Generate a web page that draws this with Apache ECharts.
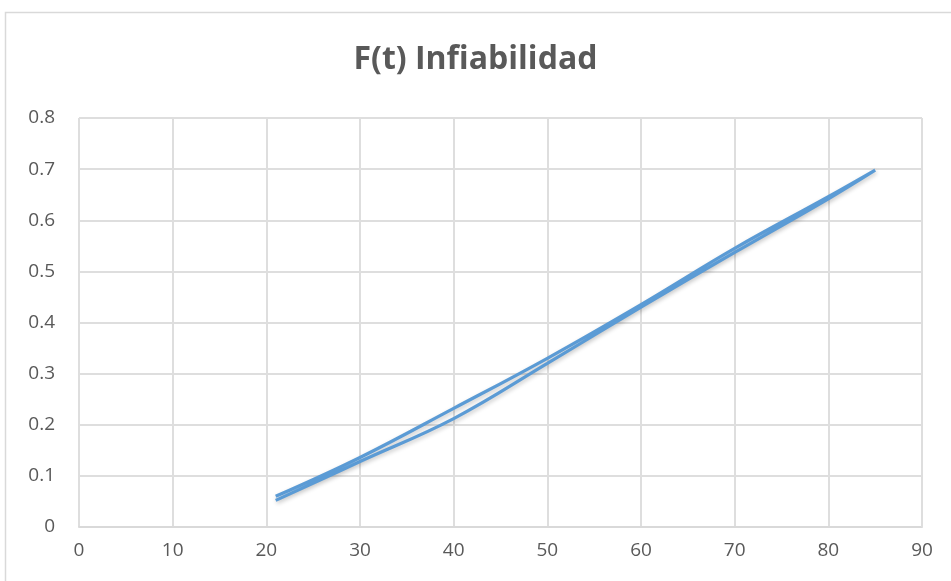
<!DOCTYPE html>
<html>
<head>
<meta charset="utf-8">
<script src="https://cdn.jsdelivr.net/npm/echarts@6/dist/echarts.min.js"></script>
<style>
html,body{margin:0;padding:0;background:#fff;}
#chart{width:951px;height:581px;}
</style>
</head>
<body>
<div id="chart"></div>
<script>
var titleText = 'F(t) Infiabilidad';
// outgoing path (lower curve) then return path (upper curve)
var tValues = [21, 30, 40, 50, 60, 70, 80, 85, 80, 70, 60, 50, 40, 30, 21];
var fValues = [0.052, 0.128, 0.212, 0.32, 0.43, 0.537, 0.642, 0.698, 0.646, 0.545, 0.435, 0.33, 0.232, 0.136, 0.06];
var xTicks = [0, 90, 10];
var yTicks = [0, 0.8, 0.1];

var data = tValues.map(function (t, i) { return [t, fValues[i]]; });

var chart = echarts.init(document.getElementById('chart'));
chart.setOption({
  animation: false,
  backgroundColor: '#fff',
  title: {
    text: titleText,
    left: 'center',
    top: 39,
    textStyle: { fontFamily: 'Open Sans', fontWeight: 'bold', fontSize: 32, color: '#595959' }
  },
  graphic: [{
    type: 'rect',
    shape: { x: 5.5, y: 12.5, width: 1000, height: 700 },
    style: { fill: 'none', stroke: '#d9d9d9', lineWidth: 1.5 },
    silent: true
  }],
  grid: { left: 79, right: 29, top: 118, bottom: 54, containLabel: false },
  xAxis: {
    type: 'value',
    min: xTicks[0], max: xTicks[1], interval: xTicks[2],
    axisLine: { show: true, lineStyle: { color: '#d9d9d9', width: 2 } },
    axisTick: { show: false },
    splitLine: { show: true, lineStyle: { color: '#dedede', width: 2 } },
    axisLabel: { color: '#595959', fontSize: 19, fontFamily: 'Open Sans', margin: 14 }
  },
  yAxis: {
    type: 'value',
    min: yTicks[0], max: yTicks[1], interval: yTicks[2],
    axisLine: { show: false },
    axisTick: { show: false },
    splitLine: { show: true, lineStyle: { color: '#dedede', width: 2 } },
    axisLabel: {
      color: '#595959', fontSize: 19, fontFamily: 'Open Sans', margin: 24,
      formatter: function (v) { return String(Math.round(v * 10) / 10); }
    }
  },
  series: [{
    type: 'line',
    data: data,
    smooth: 0.4,
    showSymbol: false,
    lineStyle: {
      color: '#5B9BD5', width: 3.2,
      shadowColor: 'rgba(0,0,0,0.22)', shadowBlur: 4, shadowOffsetX: 1, shadowOffsetY: 2
    }
  }, {
    type: 'line',
    data: [[xTicks[1], yTicks[1]], [xTicks[1], yTicks[0]]],
    showSymbol: false,
    silent: true,
    lineStyle: { color: '#dedede', width: 2 }
  }]
});
</script>
</body>
</html>
